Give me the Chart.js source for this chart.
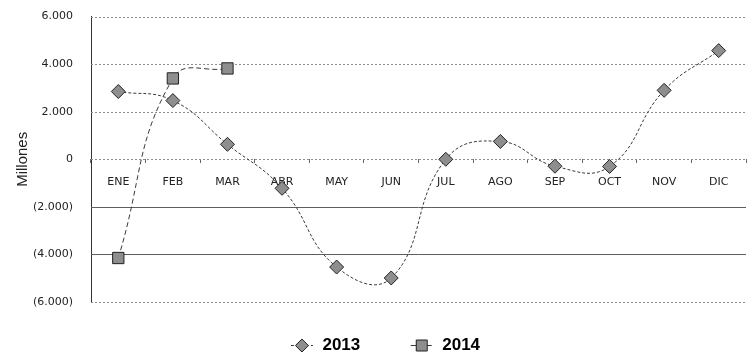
<!DOCTYPE html>
<html>
<head>
<meta charset="utf-8">
<script src="https://cdn.jsdelivr.net/npm/chart.js@4/dist/chart.umd.min.js"></script>
<style>
  html, body { margin: 0; padding: 0; background: #fff; }
  #wrap { width: 755px; height: 356px; position: relative; }
</style>
</head>
<body>
<div id="wrap"><canvas id="c"></canvas></div>
<script>
// Monthly balance, in millions
const months = ['ENE', 'FEB', 'MAR', 'ABR', 'MAY', 'JUN', 'JUL', 'AGO', 'SEP', 'OCT', 'NOV', 'DIC'];
const series2013 = [2850, 2470, 630, -1220, -4530, -4990, 0, 750, -290, -300, 2900, 4570];
const series2014 = [-4150, 3400, 3820, null, null, null, null, null, null, null, null, null];
const seriesNames = ['2013', '2014'];
const yTicks = [-6000, -4000, -2000, 0, 2000, 4000, 6000];
const axisTitle = 'Millones';

const INK = '#3a3a3a';
const MARK_FILL = '#8e8e8e';
const TICK_FONT = { family: '"DejaVu Sans", Verdana, sans-serif', size: 11 };

function fmt(v) {
  const s = Math.abs(v).toLocaleString('de-DE');
  return v < 0 ? '(' + s + ')' : s;
}

// Legend swatch: short line with the series marker on it, drawn at the right of a wider box
const SW_W = 39;
function swatch(style, dash) {
  const c = document.createElement('canvas');
  c.width = SW_W; c.height = 16;
  const g = c.getContext('2d');
  const x0 = SW_W - 23;
  g.strokeStyle = INK; g.lineWidth = 1; g.setLineDash(dash);
  g.beginPath(); g.moveTo(x0, 8.5); g.lineTo(x0 + 22, 8.5); g.stroke();
  g.setLineDash([]);
  g.fillStyle = MARK_FILL; g.strokeStyle = '#222';
  g.beginPath();
  const cx = x0 + 11;
  if (style === 'rectRot') {
    g.moveTo(cx, 2); g.lineTo(cx + 6.5, 8.5); g.lineTo(cx, 15); g.lineTo(cx - 6.5, 8.5); g.closePath();
  } else {
    g.rect(cx - 5.5, 3, 11, 11);
  }
  g.fill(); g.stroke();
  return c;
}

// Horizontal gridlines: dotted at most values, solid at -2000 and -4000
const gridPlugin = {
  id: 'hgrid',
  beforeDatasetsDraw(chart) {
    const { ctx, chartArea: a, scales: { y } } = chart;
    ctx.save();
    yTicks.forEach(v => {
      const py = Math.round(y.getPixelForValue(v)) + 0.5;
      const solid = v === -2000 || v === -4000;
      ctx.strokeStyle = solid ? '#5e5e5e' : '#8e8e8e';
      ctx.lineWidth = 1;
      ctx.setLineDash(solid ? [] : [2, 2]);
      ctx.beginPath(); ctx.moveTo(a.left, py); ctx.lineTo(a.right, py); ctx.stroke();
    });
    ctx.restore();
  }
};

new Chart(document.getElementById('c'), {
  type: 'line',
  data: {
    labels: months,
    datasets: [
      {
        label: seriesNames[0],
        data: series2013,
        borderColor: INK,
        borderWidth: 1,
        borderDash: [3, 2],
        tension: 0.45,
        pointStyle: 'rectRot',
        pointRadius: 7,
        pointBackgroundColor: MARK_FILL,
        pointBorderColor: '#222',
        pointBorderWidth: 1
      },
      {
        label: seriesNames[1],
        data: series2014,
        borderColor: INK,
        borderWidth: 1,
        borderDash: [5, 3],
        tension: 0.45,
        pointStyle: 'rect',
        pointRadius: 8,
        pointBackgroundColor: MARK_FILL,
        pointBorderColor: '#222',
        pointBorderWidth: 1
      }
    ]
  },
  options: {
    responsive: true,
    maintainAspectRatio: false,
    animation: false,
    layout: { padding: { top: 6, right: 0, left: 0, bottom: -7.5 } },
    scales: {
      x: {
        type: 'category',
        position: { y: 0 },
        offset: true,
        grid: { display: true, drawOnChartArea: false, drawTicks: true, tickLength: 4, color: '#666', offset: true },
        border: { display: false },
        ticks: {
          color: '#222',
          font: TICK_FONT,
          padding: 12,
          maxRotation: 0,
          autoSkip: false
        }
      },
      y: {
        min: -6000,
        max: 6000,
        afterFit(s) { s.width = 91; },
        afterBuildTicks(s) { s.ticks = yTicks.map(v => ({ value: v })); },
        grid: { display: false },
        border: { display: true, color: '#333', width: 1 },
        ticks: {
          color: '#222',
          font: TICK_FONT,
          padding: 10,
          callback: v => fmt(v)
        },
        title: {
          display: true,
          text: axisTitle,
          color: '#222',
          font: { family: 'Arial, "Liberation Sans", sans-serif', size: 15 },
          padding: { top: 14, bottom: 0 }
        }
      }
    },
    plugins: {
      legend: {
        position: 'bottom',
        labels: {
          color: '#111',
          font: { family: 'Arial, "Liberation Sans", sans-serif', size: 17, weight: 'bold' },
          padding: 34.5,
          usePointStyle: true,
          pointStyleWidth: SW_W,
          generateLabels(chart) {
            return chart.data.datasets.map((d, i) => ({
              text: d.label,
              datasetIndex: i,
              pointStyle: swatch(d.pointStyle, d.borderDash),
              fillStyle: MARK_FILL,
              strokeStyle: INK,
              lineWidth: 0,
              hidden: false
            }));
          }
        }
      },
      tooltip: { enabled: false }
    }
  },
  plugins: [gridPlugin]
});
</script>
</body>
</html>
